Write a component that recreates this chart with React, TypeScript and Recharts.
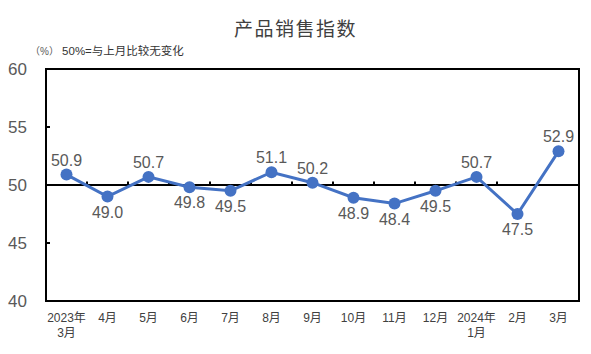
import { LineChart, Line, XAxis, YAxis, ReferenceLine, ReferenceArea, LabelList } from "recharts";

const categories = [
  "2023年\n3月", "4月", "5月", "6月", "7月", "8月", "9月",
  "10月", "11月", "12月", "2024年\n1月", "2月", "3月",
];
const values = [50.9, 49.0, 50.7, 49.8, 49.5, 51.1, 50.2, 48.9, 48.4, 49.5, 50.7, 47.5, 52.9];
const yTicks = [40, 45, 50, 55, 60];

const data = categories.map((c, i) => ({ idx: i, name: c, value: values[i] }));
const xTicks = categories.map((_, i) => i);
const boundaries = categories.slice(1).map((_, i) => i + 0.5);

const FONT = '"Liberation Sans", "Noto Sans CJK SC", sans-serif';

function XTick(props: any) {
  const { x, y, payload } = props;
  const lines = categories[payload.value].split("\n");
  return (
    <text x={x} y={y} textAnchor="middle" fill="#404040" fontSize={12} fontFamily={FONT}>
      {lines.map((l, k) => (
        <tspan key={k} x={x} dy={k === 0 ? 9 : 15}>
          {l}
        </tspan>
      ))}
    </text>
  );
}

function YTick(props: any) {
  const { x, y, payload } = props;
  const ax = x + 19;
  return (
    <g>
      <text x={x} y={y} dy={6} textAnchor="end" fill="#595959" fontSize={17} fontFamily={FONT}>
        {payload.value}
      </text>
      {payload.value !== 40 && payload.value !== 60 && (
        <line x1={ax} x2={ax + 4} y1={y} y2={y} stroke="#000" strokeWidth={2} />
      )}
    </g>
  );
}

function PointLabel(props: any) {
  const { x, y, value } = props;
  const above = value >= 50;
  return (
    <text
      x={x}
      y={above ? y - 9 : y + 21}
      textAnchor="middle"
      fill="#595959"
      fontSize={16}
      fontFamily={FONT}
    >
      {value.toFixed(1)}
    </text>
  );
}

export default function App() {
  return (
    <div style={{ position: "absolute", left: 0, top: 0, width: 591, height: 354, background: "#fff", fontFamily: FONT }}>
      <div style={{ position: "absolute", left: 0, width: 591, top: 14, textAlign: "center", fontSize: 19, letterSpacing: 1.5, color: "#404040" }}>
        产品销售指数
      </div>
      <div style={{ position: "absolute", left: 30, top: 42, fontSize: 11.5, color: "#333" }}>
        <span style={{ fontSize: 10, color: "#595959" }}>（%）</span> 50%=与上月比较无变化
      </div>
      <LineChart width={591} height={354} data={data} margin={{ top: 69, right: 12, bottom: 23, left: 0 }}>
        <XAxis
          dataKey="idx"
          type="number"
          domain={[-0.5, 12.5]}
          ticks={xTicks}
          interval={0}
          height={30}
          axisLine={false}
          tickLine={false}
          tick={<XTick />}
          tickMargin={6}
        />
        <YAxis
          domain={[40, 60]}
          ticks={yTicks}
          width={46}
          axisLine={false}
          tickLine={false}
          tickSize={0}
          tickMargin={19}
          tick={<YTick />}
          interval={0}
        />
        <ReferenceArea x1={-0.5} x2={12.5} y1={40} y2={60} fill="none" stroke="#000" strokeWidth={2} />
        <ReferenceLine y={50} stroke="#000" strokeWidth={2} />
        {boundaries.map((b) => (
          <ReferenceLine
            key={b}
            segment={[{ x: b, y: 50 }, { x: b, y: 50.3 }]}
            stroke="#000"
            strokeWidth={2}
          />
        ))}
        <Line
          dataKey="value"
          stroke="#4472C4"
          strokeWidth={3}
          dot={{ r: 6, fill: "#4472C4", stroke: "#4472C4", strokeWidth: 0 }}
          isAnimationActive={false}
        >
          <LabelList dataKey="value" content={<PointLabel />} />
        </Line>
      </LineChart>
    </div>
  );
}
